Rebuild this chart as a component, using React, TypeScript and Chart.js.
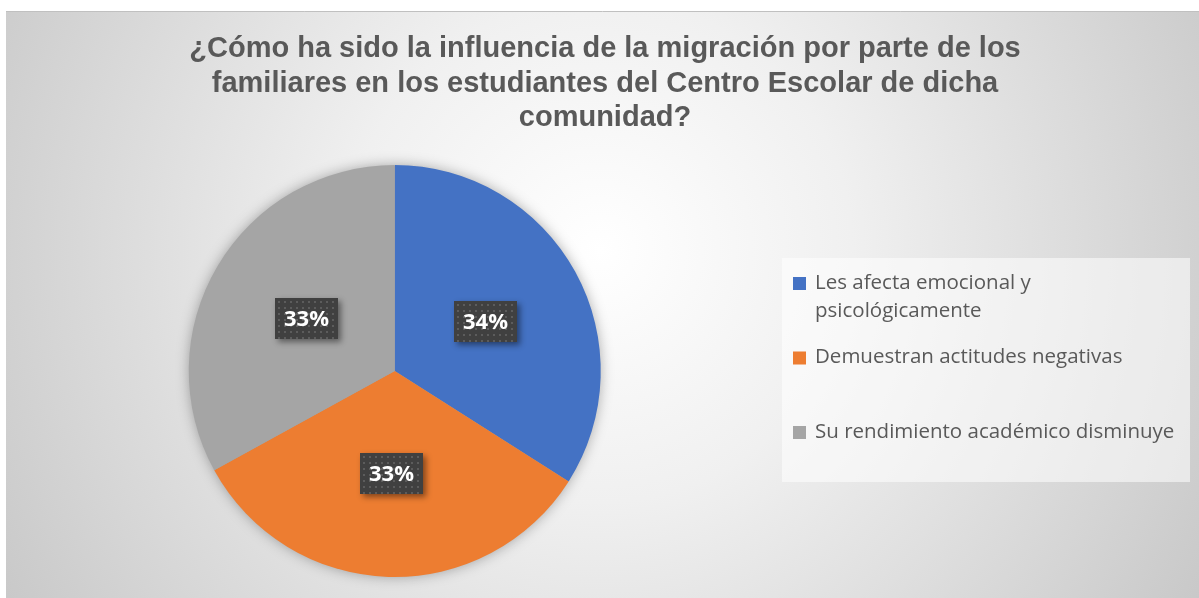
import React, { useEffect, useRef } from "react";
import { Chart, registerables } from "chart.js";
Chart.register(...registerables);

const categories: (string | string[])[] = [
  ["Les afecta emocional y", "psicológicamente"],
  "Demuestran actitudes negativas",
  "Su rendimiento académico disminuye",
];
const values = [34, 33, 33];
const colors = ["#4472C4", "#ED7D31", "#A5A5A5"];
const titleLines = [
  "¿Cómo ha sido la influencia de la migración por parte de los",
  "familiares en los estudiantes del Centro Escolar de dicha",
  "comunidad?",
];

const W = 1199;
const H = 598;

const backgroundPlugin = {
  id: "bg",
  beforeDraw(chart: any) {
    const ctx = chart.ctx;
    ctx.save();
    ctx.fillStyle = "#ffffff";
    ctx.fillRect(0, 0, W, H);
    const g = ctx.createRadialGradient(600, 250, 0, 600, 250, 720);
    g.addColorStop(0, "#ffffff");
    g.addColorStop(0.35, "#f0f0f0");
    g.addColorStop(1, "#c6c6c6");
    ctx.fillStyle = g;
    ctx.fillRect(6, 11, W - 6, H - 11);
    ctx.strokeStyle = "#c0c0c0";
    ctx.lineWidth = 1;
    ctx.beginPath();
    ctx.moveTo(6, 11.5);
    ctx.lineTo(W, 11.5);
    ctx.stroke();
    // title
    ctx.fillStyle = "#595959";
    ctx.font = "bold 29px 'Liberation Sans', Arial, sans-serif";
    ctx.textAlign = "center";
    ctx.textBaseline = "middle";
    titleLines.forEach((t, i) => {
      ctx.fillText(t, 605, 49 + i * 34.5);
    });
    ctx.restore();
  },
};

const shadowPlugin = {
  id: "pieShadow",
  beforeDatasetsDraw(chart: any) {
    const ctx = chart.ctx;
    const arc = chart.getDatasetMeta(0).data[0];
    if (!arc) return;
    ctx.save();
    ctx.shadowColor = "rgba(0,0,0,0.35)";
    ctx.shadowBlur = 14;
    ctx.shadowOffsetX = 0;
    ctx.shadowOffsetY = 0;
    ctx.fillStyle = "#a5a5a5";
    ctx.beginPath();
    ctx.arc(arc.x, arc.y, arc.outerRadius - 1, 0, Math.PI * 2);
    ctx.fill();
    ctx.restore();
  },
};

const labelPlugin = {
  id: "dataLabels",
  afterDatasetsDraw(chart: any) {
    const ctx = chart.ctx;
    const meta = chart.getDatasetMeta(0);
    const total = values.reduce((a, b) => a + b, 0);
    meta.data.forEach((arc: any, i: number) => {
      const { x, y } = arc.tooltipPosition();
      const txt = Math.round((values[i] / total) * 100) + "%";
      const w = 63;
      const h = 41;
      const x0 = Math.round(x - w / 2);
      const y0 = Math.round(y - h / 2);
      ctx.save();
      ctx.shadowColor = "rgba(0,0,0,0.45)";
      ctx.shadowBlur = 6;
      ctx.shadowOffsetX = 3;
      ctx.shadowOffsetY = 3;
      ctx.fillStyle = "#404040";
      ctx.fillRect(x0, y0, w, h);
      ctx.restore();
      ctx.save();
      ctx.fillStyle = "#5c5c5c";
      for (let dy = 3; dy < h - 1; dy += 6) {
        for (let dx = 3; dx < w - 1; dx += 6) {
          ctx.fillRect(x0 + dx, y0 + dy, 2, 2);
        }
      }
      ctx.fillStyle = "#ffffff";
      ctx.font = "bold 22px 'Open Sans'";
      ctx.textAlign = "center";
      ctx.textBaseline = "middle";
      ctx.fillText(txt, x0 + w / 2, y0 + h / 2 + 1);
      ctx.restore();
    });
  },
};

const legendPlugin = {
  id: "customLegend",
  afterDraw(chart: any) {
    const ctx = chart.ctx;
    ctx.save();
    ctx.fillStyle = "rgba(255,255,255,0.55)";
    ctx.fillRect(782, 258, 408, 224);
    ctx.font = "20.5px 'Open Sans'";
    ctx.textBaseline = "middle";
    ctx.textAlign = "left";
    const labels = chart.data.labels as (string | string[])[];
    const bg = chart.data.datasets[0].backgroundColor as string[];
    const startY = 283;
    const step = 74.5;
    const lineH = 28;
    labels.forEach((lab, i) => {
      const lines = Array.isArray(lab) ? lab : [lab];
      const cy = startY + i * step;
      ctx.fillStyle = bg[i];
      ctx.fillRect(793, cy - 6, 13, 13);
      ctx.fillStyle = "#595959";
      lines.forEach((ln, j) => {
        ctx.fillText(ln, 815, cy + j * lineH);
      });
    });
    ctx.restore();
  },
};

export default function App() {
  const ref = useRef<HTMLCanvasElement>(null);
  useEffect(() => {
    if (!ref.current) return;
    const chart = new Chart(ref.current, {
      type: "pie",
      data: {
        labels: categories as any,
        datasets: [
          {
            data: values,
            backgroundColor: colors,
            borderWidth: 0,
          },
        ],
      },
      options: {
        responsive: false,
        animation: false,
        layout: { padding: { top: 165, bottom: 21, left: 188.5, right: 598 } },
        plugins: {
          legend: { display: false },
          tooltip: { enabled: false },
          title: { display: false },
        },
      },
      plugins: [backgroundPlugin, shadowPlugin, labelPlugin, legendPlugin],
    });
    return () => chart.destroy();
  }, []);
  return (
    <div style={{ position: "absolute", left: 0, top: 0, width: W, height: H }}>
      <canvas ref={ref} width={W} height={H} style={{ display: "block" }} />
    </div>
  );
}
